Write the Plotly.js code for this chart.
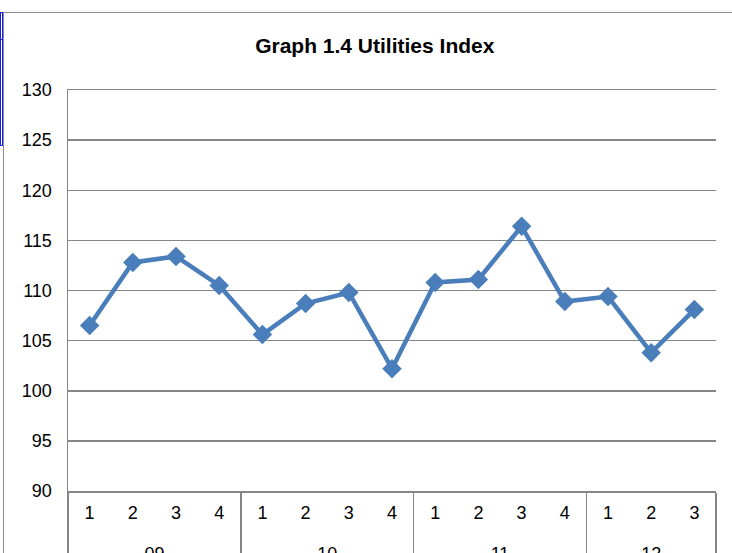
<!DOCTYPE html>
<html>
<head>
<meta charset="utf-8">
<script src="https://cdn.plot.ly/plotly-3.0.1.min.js"></script>
<style>
body{margin:0;padding:0;background:#fff;overflow:hidden}
#wrap{position:relative;width:732px;height:553px}
#chart{position:absolute;left:0;top:0;width:732px;height:553px}
/* chart frame + the blue selection leftover on the left edge */
#frame{position:absolute;left:3px;top:12px;width:740px;height:560px;border-left:1.5px solid #8c8c8c;border-top:1.5px solid #8c8c8c;pointer-events:none}
#sel{position:absolute;left:0;top:12px;width:1px;height:132px;border:1px solid #1a1aff;pointer-events:none}
#sel2{position:absolute;left:0;top:39px;width:3px;height:0;border-top:1px solid #1a1aff;pointer-events:none}
</style>
</head>
<body>
<div id="wrap">
<div id="chart"></div>
<div id="frame"></div>
<div id="sel"></div>
<div id="sel2"></div>
</div>
<script>
// quarters grouped by year (2009 - 2012 Q3)
var years    = ['09','09','09','09','10','10','10','10','11','11','11','11','12','12','12']
var quarters = ['1','2','3','4','1','2','3','4','1','2','3','4','1','2','3']
var utilities = [106.5,112.8,113.4,110.5,105.6,108.7,109.8,102.2,110.8,111.1,116.4,108.9,109.4,103.8,108.1]

var yTicks = [90,95,100,105,110,115,120,125,130]

// outer (year) row sits lower in the original, push it down one line
var yearLabels = years.map(y=>'<br>'+y)

var trace={
    type:'scatter',
    mode:'lines+markers',
    x:[yearLabels,quarters],
    y:utilities,
    line:{color:'#4a7ebb',width:4.5},
    marker:{symbol:'diamond',size:15,color:'#4a7ebb'},
    hoverinfo:'y'
}

var gray='#868686'
var layout={
    width:732,
    height:553,
    paper_bgcolor:'#fff',
    plot_bgcolor:'#fff',
    showlegend:false,
    font:{family:'"Liberation Sans", Arial, sans-serif',size:18,color:'#000'},
    title:{
        text:'<b>Graph 1.4 Utilities Index</b>',
        font:{size:21,color:'#000'},
        x:0.512,
        xref:'container',
        xanchor:'center',
        y:0.918,
        yref:'container',
        yanchor:'middle'
    },
    margin:{l:68,r:16,t:90,b:62,pad:0},
    xaxis:{
        type:'multicategory',
        range:[-0.5,14.5],
        showline:true,
        mirror:true,
        linecolor:gray,
        linewidth:1.5,
        showgrid:false,
        ticks:'',
        showdividers:true,
        dividercolor:gray,
        dividerwidth:1.5,
        ticklabelstandoff:5
    },
    yaxis:{
        range:[90,130],
        tickvals:yTicks,
        ticktext:yTicks.map(String),
        showgrid:true,
        gridcolor:gray,
        gridwidth:1.5,
        showline:true,
        linecolor:gray,
        linewidth:1.5,
        zeroline:false,
        ticks:'',
        ticklabelstandoff:11,
        fixedrange:true
    }
}

Plotly.newPlot('chart',[trace],layout,{displayModeBar:false,staticPlot:true})
</script>
</body>
</html>
